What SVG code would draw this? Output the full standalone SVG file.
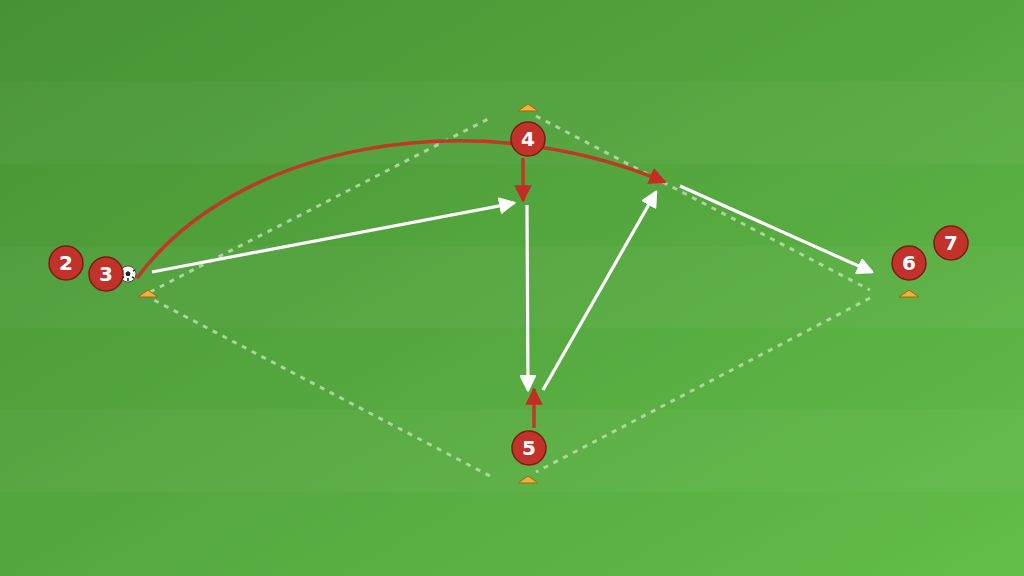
<svg xmlns="http://www.w3.org/2000/svg" width="1024" height="576" viewBox="0 0 1024 576">
<defs>
<linearGradient id="bg" x1="0" y1="0" x2="1" y2="1">
<stop offset="0" stop-color="#479234"/>
<stop offset="1" stop-color="#62bd49"/>
</linearGradient>
<marker id="wa" viewBox="0 0 10 10" refX="9" refY="5" markerWidth="5.2" markerHeight="5.2" markerUnits="strokeWidth" orient="auto">
<path d="M0.5,0.5 L9.5,5 L0.5,9.5 z" fill="#ffffff" stroke="#ffffff" stroke-width="1" stroke-linejoin="round"/>
</marker>
<marker id="ra" viewBox="0 0 10 10" refX="9" refY="5" markerWidth="5" markerHeight="5" markerUnits="strokeWidth" orient="auto">
<path d="M0,0 L10,5 L0,10 z" fill="#c42d22"/>
</marker>
</defs>
<style>
.dash{stroke:#c4dfb4;stroke-opacity:0.8;stroke-width:3;stroke-dasharray:5 6;fill:none}
.pass{stroke:#ffffff;stroke-width:3.2;fill:none;marker-end:url(#wa)}
.run{stroke:#bd3a27;stroke-width:3.5;fill:none;marker-end:url(#ra)}
.player circle{fill:#c0322a;stroke:#7a1f12;stroke-width:1.5}
.player text{fill:#ffffff;font-family:"DejaVu Sans","Liberation Sans",sans-serif;font-weight:bold;font-size:20px;text-anchor:middle;dominant-baseline:central}
.cone{fill:#f0b03a;stroke:#9a6a18;stroke-width:1}
</style>
<rect width="1024" height="576" fill="url(#bg)"/>
<g id="stripes" fill="#ffffff" fill-opacity="0.03">
<rect y="82" width="1024" height="82"/>
<rect y="246" width="1024" height="82"/>
<rect y="410" width="1024" height="82"/>
</g>
<g id="area">
<line class="dash" x1="150" y1="292" x2="490" y2="118"/>
<line class="dash" x1="536" y1="116" x2="870" y2="290"/>
<line class="dash" x1="870" y1="298" x2="536" y2="472"/>
<line class="dash" x1="490" y1="476" x2="150" y2="298"/>
</g>
<g id="cones">
<path class="cone" d="M138,297 L148,290 L158,297 z"/>
<path class="cone" d="M518,111 L528,104 L538,111 z"/>
<path class="cone" d="M518,483 L528,476 L538,483 z"/>
<path class="cone" d="M899,297 L909,290 L919,297 z"/>
</g>
<g id="connectors">
<path class="run" d="M137,278 C235,145 470,100 665,182"/>
<line class="run" x1="523" y1="158" x2="523" y2="201"/>
<line class="run" x1="534" y1="428" x2="534" y2="389"/>
<line class="pass" x1="152" y1="272" x2="514" y2="203"/>
<line class="pass" x1="527" y1="205" x2="528" y2="390"/>
<line class="pass" x1="543" y1="390" x2="656" y2="192"/>
<line class="pass" x1="680" y1="186" x2="872" y2="272"/>
</g>
<g id="ball">
<circle cx="128" cy="274" r="8" fill="#ffffff" stroke="#333" stroke-width="0.8"/>
<path d="M128,271 l2.6,1.9 -1,3 h-3.2 l-1,-3 z" fill="#222"/>
<path d="M121,270 l2,1 M135,270 l-2,1 M128,281 v-3 M122,278 l2,-1 M134,278 l-2,-1" stroke="#222" stroke-width="1.5"/>
</g>
<g id="p2" class="player"><circle cx="66" cy="263" r="17"/><text x="66" y="263">2</text></g>
<g id="p3" class="player"><circle cx="106" cy="274" r="17"/><text x="106" y="274">3</text></g>
<g id="p4" class="player"><circle cx="528" cy="139" r="17"/><text x="528" y="139">4</text></g>
<g id="p5" class="player"><circle cx="529" cy="448" r="17"/><text x="529" y="448">5</text></g>
<g id="p6" class="player"><circle cx="909" cy="263" r="17"/><text x="909" y="263">6</text></g>
<g id="p7" class="player"><circle cx="951" cy="243" r="17"/><text x="951" y="243">7</text></g>
</svg>
